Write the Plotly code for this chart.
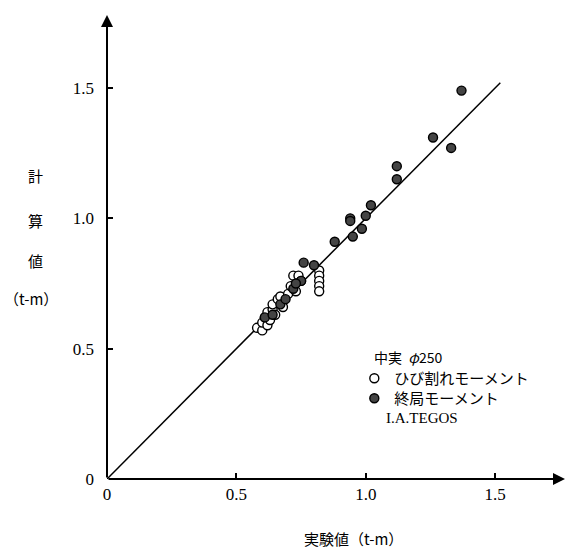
import plotly.graph_objects as go

# crack moment (open circles): experimental vs calculated (t-m)
crack_x = [0.58, 0.60, 0.60, 0.61, 0.62, 0.62, 0.63, 0.64, 0.64, 0.65, 0.66, 0.67,
           0.68, 0.70, 0.71, 0.72, 0.74, 0.73, 0.75, 0.82, 0.82, 0.82, 0.82, 0.82]
crack_y = [0.58, 0.57, 0.60, 0.62, 0.59, 0.64, 0.61, 0.65, 0.67, 0.63, 0.69, 0.70,
           0.66, 0.71, 0.74, 0.78, 0.78, 0.72, 0.76, 0.80, 0.78, 0.76, 0.74, 0.72]

# ultimate moment (filled circles)
ult_x = [0.61, 0.64, 0.67, 0.69, 0.72, 0.75, 0.73, 0.76, 0.80, 0.88, 0.94, 0.94,
         0.95, 0.985, 1.00, 1.02, 1.12, 1.12, 1.26, 1.33, 1.37]
ult_y = [0.62, 0.63, 0.67, 0.69, 0.73, 0.76, 0.75, 0.83, 0.82, 0.91, 1.00, 0.99,
         0.93, 0.96, 1.01, 1.05, 1.15, 1.20, 1.31, 1.27, 1.49]

line_x = [0, 1.52]
line_y = [0, 1.52]

tick_vals = [0, 0.5, 1.0, 1.5]
tick_text = ["0", "0.5", "1.0", "1.5"]

SERIF = "Liberation Serif"
CJK = "Noto Sans CJK JP"

fig = go.Figure()
fig.add_trace(go.Scatter(x=line_x, y=line_y, mode="lines",
                         line=dict(color="black", width=1.5), showlegend=False,
                         hoverinfo="skip"))
fig.add_trace(go.Scatter(x=crack_x, y=crack_y, mode="markers", name="ひび割れモーメント",
                         legend="legend",
                         marker=dict(symbol="circle", size=9, color="white",
                                     line=dict(color="black", width=1.4))))
fig.add_trace(go.Scatter(x=ult_x, y=ult_y, mode="markers", name="終局モーメント",
                         legend="legend2",
                         marker=dict(symbol="circle", size=9, color="#444444",
                                     line=dict(color="black", width=1.4))))

XMAX, YMAX = 1.77, 1.78
PLOT_H = 464
Y0 = 479

leg_common = dict(x=0.54, xanchor="left", yanchor="top",
                  font=dict(family=CJK, size=15), itemwidth=30,
                  bgcolor="rgba(0,0,0,0)")

fig.update_layout(
    width=573, height=551,
    margin=dict(l=107, r=8, t=15, b=72),
    plot_bgcolor="white", paper_bgcolor="white",
    font=dict(family=SERIF, size=17, color="black"),
    xaxis=dict(range=[0, XMAX], showgrid=False, zeroline=False, showline=False,
               tickvals=tick_vals, ticktext=tick_text, ticks="inside", ticklen=6,
               tickwidth=1.5, tickcolor="black", ticklabelstandoff=3,
               tickfont=dict(family=SERIF, size=17)),
    yaxis=dict(range=[0, YMAX], showgrid=False, zeroline=False, showline=False,
               tickvals=tick_vals, ticktext=tick_text, ticks="inside", ticklen=6,
               tickwidth=1.5, tickcolor="black", ticklabelstandoff=12,
               tickfont=dict(family=SERIF, size=17)),
    legend=dict(y=(Y0 - 362) / PLOT_H, **leg_common),
    legend2=dict(y=(Y0 - 382) / PLOT_H, **leg_common),
    showlegend=True,
)

# axes with arrows
fig.add_annotation(x=XMAX, y=0, ax=0, ay=0, xref="x", yref="y", axref="x", ayref="y",
                   text="", showarrow=True, arrowhead=2, arrowsize=1.2, arrowwidth=2,
                   arrowcolor="black")
fig.add_annotation(x=0, y=YMAX, ax=0, ay=0, xref="x", yref="y", axref="x", ayref="y",
                   text="", showarrow=True, arrowhead=2, arrowsize=1.2, arrowwidth=2,
                   arrowcolor="black")

# axis titles
fig.add_annotation(x=(353 - 107) / 458, y=0, xref="paper", yref="paper",
                   xanchor="center", yanchor="middle", yshift=-59,
                   text="実験値（t-m）", showarrow=False,
                   font=dict(family=CJK, size=15))
for txt, yy, xc in [("計", 175, 35), ("算", 220, 35), ("値", 260, 35), ("（t-m）", 298, 31)]:
    fig.add_annotation(x=0, y=(Y0 - yy) / PLOT_H, xref="paper", yref="paper",
                       xanchor="center", yanchor="middle", xshift=xc - 107,
                       text=txt, showarrow=False,
                       font=dict(family=CJK, size=15))

# legend header and source
fig.add_annotation(x=(372 - 107) / 458, y=(Y0 - 357) / PLOT_H, xref="paper", yref="paper",
                   xanchor="left", yanchor="middle", text="中実  <i>φ</i>250",
                   showarrow=False, font=dict(family=CJK, size=14))
fig.add_annotation(x=(384 - 107) / 458, y=(Y0 - 418) / PLOT_H, xref="paper", yref="paper",
                   xanchor="left", yanchor="middle", text="I.A.TEGOS", showarrow=False,
                   font=dict(family=SERIF, size=15))

fig.write_html("out.html")
